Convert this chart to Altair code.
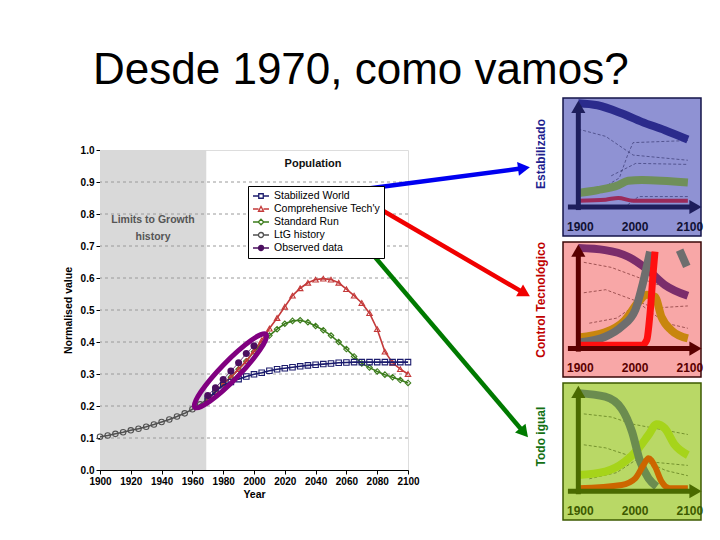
import altair as alt
import pandas as pd

TITLE = "Desde 1970, como vamos?"

# ---------------- main chart data ----------------
hist_years = list(range(1900, 1971, 5))
hist_vals = [0.104, 0.108, 0.113, 0.118, 0.124, 0.129, 0.135, 0.142, 0.150,
             0.158, 0.167, 0.177, 0.190, 0.205, 0.222]

run_years = list(range(1970, 2101, 5))
std_vals = [.222, .245, .268, .290, .315, .340, .370, .395, .420, .440,
            .457, .466, .468, .462, .450, .437, .420, .400, .378, .355,
            .333, .320, .308, .298, .290, .281, .272]
tech_vals = [.222, .245, .268, .290, .315, .340, .372, .405, .442, .475,
             .510, .545, .568, .585, .595, .598, .595, .585, .565, .545,
             .522, .490, .440, .370, .335, .315, .300]
stab_vals = [.222, .245, .265, .275, .284, .292, .299, .304, .310, .315,
             .318, .321, .324, .327, .329, .331, .333, .335, .336, .337,
             .337, .337, .337, .337, .337, .337, .337]
obs_years = [1970, 1975, 1980, 1985, 1990, 1995, 2000]
obs_vals = [0.233, 0.257, 0.283, 0.309, 0.335, 0.364, 0.388]

series_names = ["Stabilized World", "Comprehensive Tech'y", "Standard Run",
                "LtG history", "Observed data"]
series_colors = ["#1c1c6e", "#c43a3a", "#3d7d1d", "#505050", "#4b0f5f"]
series_fills = ["white", "white", "white", "white", "#4b0f5f"]
series_shapes = ["square", "triangle-up", "diamond", "circle", "circle"]

grid_vals = [0.1, 0.2, 0.3, 0.4, 0.5, 0.6, 0.7, 0.8, 0.9]
shade_span = [1900, 1969]
x_ticks = list(range(1900, 2101, 20))
y_ticks = [0.0, 0.1, 0.2, 0.3, 0.4, 0.5, 0.6, 0.7, 0.8, 0.9, 1.0]

# ellipse around the observed data
ellipse_center = [1984.7, 0.31]

# annotation arrows (legend -> panels)
arrow_x0 = [2065.6, 2079.9, 2057.8]
arrow_y0 = [0.874, 0.821, 0.783]
arrow_x1 = [2175.3, 2175.8, 2175.4]
arrow_y1 = [0.9435, 0.552, 0.1166]
arrow_angle = [352.5, 30.2, 49.7]
arrow_color = ["#0000f0", "#f00000", "#007a00"]

# ---------------- panels data ----------------
panel_box = [1872, 2124, -0.28, 1.05]
panel_ranges = [[86, -52], [227, 92], [370, 233]]
panel_bg = ["#8f92d3", "#f8a7a7", "#b9d866"]
panel_border = ["#15154a", "#3a0808", "#3d5a00"]
panel_axis_col = ["#1e1e5c", "#5a0000", "#4a6a00"]
panel_label_col = ["#111133", "#5a0000", "#3d5a00"]
panel_names = ["Estabilizado", "Control Tecnológico", "Todo igual"]
panel_name_col = ["#1f1f8f", "#c00000", "#137013"]
panel_name_y = [0.51, 0.48, 0.53]
panel_tick_years = [1900, 2000, 2100]

# panel 1 (stabilized)
p1_navy_y = [1900, 1935, 1980, 2016, 2058, 2100]
p1_navy_v = [1.0, 0.98, 0.90, 0.82, 0.74, 0.65]
p1_green_y = [1900, 1936, 1973, 1991, 2016, 2100]
p1_green_v = [0.135, 0.163, 0.21, 0.253, 0.26, 0.235]
p1_red_y = [1900, 1950, 1973, 2000, 2100]
p1_red_v = [0.06, 0.07, 0.087, 0.06, 0.06]
# panel 2 (technology)
p2_purple_y = [1900, 1949, 1991, 2027, 2058, 2100]
p2_purple_v = [0.99, 0.97, 0.905, 0.775, 0.627, 0.52]
p2_orange_y = [1900, 1949, 1985, 2010, 2025, 2040, 2052, 2070, 2100]
p2_orange_v = [0.11, 0.16, 0.28, 0.46, 0.53, 0.51, 0.31, 0.18, 0.10]
p2_grey_y = [1900, 1949, 1979, 2004, 2018, 2031]
p2_grey_v = [0.06, 0.117, 0.216, 0.38, 0.646, 0.955]
p2_grey2_y = [2085, 2098]
p2_grey2_v = [0.97, 0.81]
p2_red_y = [1900, 2016, 2025, 2031, 2037, 2040]
p2_red_v = [0.034, 0.034, 0.085, 0.35, 0.77, 0.955]
# panel 3 (business as usual)
p3_light_y = [1900, 1949, 1985, 2010, 2028, 2043, 2058, 2076, 2100]
p3_light_v = [0.157, 0.19, 0.286, 0.416, 0.545, 0.65, 0.61, 0.45, 0.35]
p3_grey_y = [1900, 1949, 1979, 1998, 2013, 2028, 2043]
p3_grey_v = [0.95, 0.917, 0.80, 0.578, 0.286, 0.125, 0.044]
p3_orange_y = [1900, 1979, 2004, 2019, 2028, 2040, 2052, 2067, 2100]
p3_orange_v = [0.028, 0.06, 0.125, 0.254, 0.32, 0.238, 0.092, 0.028, 0.028]

p1_thin = [([1900, 1950, 1975, 1990, 2000, 2100], [0.15, 0.20, 0.28, 0.50, 0.62, 0.64]),
           ([1900, 1950, 2000, 2100], [0.75, 0.68, 0.50, 0.45]),
           ([1960, 1990, 2005, 2100], [0.30, 0.38, 0.42, 0.41]),
           ([1990, 2010, 2100], [0.02, 0.10, 0.10])]
p2_thin = [([1910, 1960, 2000, 2060, 2100], [0.85, 0.80, 0.72, 0.60, 0.55]),
           ([1910, 1950, 1990, 2040, 2100], [0.55, 0.58, 0.50, 0.40, 0.42]),
           ([1920, 1970, 2010, 2060, 2100], [0.25, 0.30, 0.45, 0.25, 0.20])]
p3_thin = [([1910, 1960, 2000, 2050, 2100], [0.75, 0.72, 0.65, 0.60, 0.55]),
           ([1910, 1950, 1990, 2040, 2100], [0.45, 0.42, 0.35, 0.28, 0.25]),
           ([1920, 1970, 2010, 2060, 2100], [0.12, 0.18, 0.32, 0.20, 0.15])]

panel_thick = [
    [(p1_navy_y, p1_navy_v, "#2b2b8c", 8), (p1_green_y, p1_green_v, "#6f8f5a", 8),
     (p1_red_y, p1_red_v, "#9a2a5a", 4)],
    [(p2_orange_y, p2_orange_v, "#c8860e", 8), (p2_purple_y, p2_purple_v, "#7b2d6b", 8),
     (p2_grey_y, p2_grey_v, "#6e6e6e", 8), (p2_grey2_y, p2_grey2_v, "#6e6e6e", 8),
     (p2_red_y, p2_red_v, "#ff1010", 7)],
    [(p3_light_y, p3_light_v, "#a6d41a", 8), (p3_grey_y, p3_grey_v, "#6b8c4f", 8),
     (p3_orange_y, p3_orange_v, "#cc6600", 6)],
]
panel_thin = [p1_thin, p2_thin, p3_thin]
thin_col = ["#22225a", "#5a1010", "#3d5a00"]

FONT = "Liberation Sans"

# ---------------- main chart ----------------
x_axis = alt.Axis(values=x_ticks, format="d", labelFontWeight="bold", labelFontSize=10,
                  tickSize=4, labelPadding=2, grid=False, domainColor="black",
                  tickColor="black", labelColor="black", titleColor="black",
                  titleFontWeight="bold", titleFontSize=10.5, titlePadding=3, labelFlush=False)
y_axis = alt.Axis(values=y_ticks, format=".1f", labelFontWeight="bold", labelFontSize=10,
                  tickSize=4, labelPadding=2, grid=False, domainColor="black",
                  tickColor="black", labelColor="black", titleColor="black",
                  titleFontWeight="bold", titleFontSize=10.5, titlePadding=7)
xs = alt.Scale(domain=[1900, 2100], nice=False, zero=False)
ys = alt.Scale(domain=[0, 1], nice=False, zero=False)


def MX(f):
    return alt.X(f + ":Q", scale=xs, axis=x_axis, title="Year")


def MY(f):
    return alt.Y(f + ":Q", scale=ys, axis=y_axis, title="Normalised value")


rows = []
for y, v in zip(hist_years, hist_vals):
    rows.append({"series": "LtG history", "year": y, "value": v})
for y, a, b, c in zip(run_years, std_vals, tech_vals, stab_vals):
    rows.append({"series": "Standard Run", "year": y, "value": a})
    rows.append({"series": "Comprehensive Tech'y", "year": y, "value": b})
    rows.append({"series": "Stabilized World", "year": y, "value": c})
for y, v in zip(obs_years, obs_vals):
    rows.append({"series": "Observed data", "year": y, "value": v})
sdf = pd.DataFrame(rows)

shade = alt.Chart(pd.DataFrame({"x0": [shade_span[0]], "x1": [shade_span[1]],
                                "y0": [0.0], "y1": [1.0]})).mark_rect(
    color="#d9d9d9").encode(x=MX("x0"), x2="x1", y=MY("y0"), y2="y1")

grid = alt.Chart(pd.DataFrame({"g": grid_vals})).mark_rule(
    strokeDash=[3, 3], color="#9a9a9a", strokeWidth=1).encode(y=MY("g"))

draw_order = ["LtG history", "Standard Run", "Comprehensive Tech'y", "Stabilized World", "Observed data"]
line_w = {"LtG history": 1.6, "Standard Run": 1.6, "Comprehensive Tech'y": 1.6,
          "Stabilized World": 1.6, "Observed data": 0.8}
series_layers = []
for name in draw_order:
    i = series_names.index(name)
    d = sdf[sdf.series == name]
    base = alt.Chart(d)
    series_layers.append(base.mark_line(color=series_colors[i], strokeWidth=line_w[name]).encode(
        x=MX("year"), y=MY("value")))
    if name == "Observed data":
        pt = base.mark_point(shape="circle", filled=True, color=series_colors[i], size=50, opacity=1)
    else:
        pt = base.mark_point(shape=series_shapes[i], filled=False, color=series_colors[i],
                             size=30, strokeWidth=1.1, opacity=1)
    series_layers.append(pt.encode(x=MX("year"), y=MY("value")))

ell_k = 0.18
ell_path = ("M-1,0C-1,-{a},-0.5523,-{b},0,-{b}C0.5523,-{b},1,-{a},1,0"
            "C1,{a},0.5523,{b},0,{b}C-0.5523,{b},-1,{a},-1,0Z").format(a=round(0.5523 * ell_k, 4), b=ell_k)
ellipse = alt.Chart(pd.DataFrame({"year": [ellipse_center[0]], "value": [ellipse_center[1]]})).mark_point(
    shape=ell_path, size=10404, angle=314.2, filled=False, stroke="#800080", strokeWidth=5,
    opacity=1).encode(x=MX("year"), y=MY("value"))

txt_df = pd.DataFrame({"year": [2038.3], "value": [0.955], "t": ["Population"]})
pop_txt = alt.Chart(txt_df).mark_text(fontSize=11, fontWeight="bold", color="#111",
                                      font=FONT).encode(x=MX("year"), y=MY("value"), text="t:N")
ltg_df = pd.DataFrame({"year": [1934.4, 1934.4], "value": [0.78, 0.728],
                       "t": ["Limits to Growth", "history"]})
ltg_txt = alt.Chart(ltg_df).mark_text(fontSize=10.5, fontWeight="bold", color="#555",
                                      font=FONT).encode(x=MX("year"), y=MY("value"), text="t:N")

title_txt = alt.Chart(pd.DataFrame({"t": [TITLE]})).mark_text(
    fontSize=44, align="left", baseline="alphabetic", font=FONT, color="black").encode(
    text="t:N", x=alt.value(-7), y=alt.value(-66))

# legend (native) from a data-less layer
c = 0.5523 * 0.5
circ = ("M0.1,0C0.1,-{c},{l},-0.5,0.6,-0.5C{r},-0.5,1.1,-{c},1.1,0"
        "C1.1,{c},{r},0.5,0.6,0.5C{l},0.5,0.1,{c},0.1,0Z").format(c=round(c, 3), l=round(0.6 - c, 3), r=round(0.6 + c, 3))
legend_paths = [
    "M-1,0H0.15M1.05,0H2.2M0.15,-0.45H1.05V0.45H0.15Z",
    "M-1,0H0.1M1.1,0H2.2M0.1,0.45L0.6,-0.5L1.1,0.45Z",
    "M-1,0H0.05M1.15,0H2.2M0.6,-0.55L1.15,0L0.6,0.55L0.05,0Z",
    "M-1,0H0.1M1.1,0H2.2" + circ,
    "M-1,0H0.1M1.1,0H2.2" + circ,
]
LEG = alt.Legend(orient="none", legendX=148, legendY=36, title=None, strokeColor="black",
                 fillColor="white", padding=4, labelFontSize=10.5, labelFont=FONT,
                 labelColor="black", symbolSize=100, symbolStrokeWidth=1.3, rowPadding=1,
                 labelOffset=10)
legend_layer = alt.Chart(pd.DataFrame({"series": series_names})).transform_filter("false").mark_point(
    opacity=1).encode(
    stroke=alt.Stroke("series:N", scale=alt.Scale(domain=series_names, range=series_colors), legend=LEG),
    fill=alt.Fill("series:N", scale=alt.Scale(domain=series_names, range=series_fills), legend=LEG),
    shape=alt.Shape("series:N", scale=alt.Scale(domain=series_names, range=legend_paths), legend=LEG),
)

adf = pd.DataFrame({"x0": arrow_x0, "y0": arrow_y0, "x1": arrow_x1, "y1": arrow_y1,
                    "ang": arrow_angle, "col": arrow_color})
arrow_lines = alt.Chart(adf).mark_rule(strokeWidth=4.5).encode(
    x=MX("x0"), x2="x1", y=MY("y0"), y2="y1", color=alt.Color("col:N", scale=None))
arrow_heads = alt.Chart(adf).mark_point(shape="triangle-right", size=190, filled=True,
                                        opacity=1).encode(
    x=MX("x1"), y=MY("y1"), color=alt.Color("col:N", scale=None), angle=alt.Angle("ang:Q", scale=None))

main = alt.layer(shade, grid, *series_layers, ellipse, pop_txt, ltg_txt, legend_layer,
                 arrow_lines, arrow_heads, title_txt)


# ---------------- panels ----------------
def panel(i):
    px = alt.Scale(domain=panel_box[:2], range=[463, 601], nice=False, zero=False)
    py = alt.Scale(domain=panel_box[2:], range=panel_ranges[i], nice=False, zero=False)

    def PX(f):
        return alt.X(f + ":Q", scale=px, axis=None)

    def PY(f):
        return alt.Y(f + ":Q", scale=py, axis=None)

    box = alt.Chart(pd.DataFrame({"x0": [panel_box[0]], "x1": [panel_box[1]],
                                  "y0": [panel_box[2]], "y1": [panel_box[3]]})).mark_rect(
        fill=panel_bg[i], stroke=panel_border[i], strokeWidth=1.5).encode(
        x=PX("x0"), x2="x1", y=PY("y0"), y2="y1")

    trows = []
    for k, (yy, vv) in enumerate(panel_thin[i]):
        for a, b in zip(yy, vv):
            trows.append({"id": k, "year": a, "value": b})
    thin = alt.Chart(pd.DataFrame(trows)).mark_line(
        color=thin_col[i], strokeWidth=0.8, strokeDash=[3, 2], opacity=0.7).encode(
        x=PX("year"), y=PY("value"), detail="id:N")

    thick = []
    for k, (yy, vv, col, w) in enumerate(panel_thick[i]):
        d = pd.DataFrame({"year": yy, "value": vv})
        thick.append(alt.Chart(d).mark_line(color=col, strokeWidth=w, interpolate="monotone").encode(
            x=PX("year"), y=PY("value")))

    hx = alt.Chart(pd.DataFrame({"x0": [1881], "x1": [2113], "y0": [0.0]})).mark_rule(
        color=panel_axis_col[i], strokeWidth=5).encode(x=PX("x0"), x2="x1", y=PY("y0"))
    vx = alt.Chart(pd.DataFrame({"x0": [1900], "y0": [-0.03], "y1": [0.96]})).mark_rule(
        color=panel_axis_col[i], strokeWidth=5).encode(x=PX("x0"), y=PY("y0"), y2="y1")
    head_r = alt.Chart(pd.DataFrame({"x": [2114], "y": [0.0]})).mark_point(
        shape="triangle-right", filled=True, size=200, color=panel_axis_col[i], opacity=1).encode(
        x=PX("x"), y=PY("y"))
    head_u = alt.Chart(pd.DataFrame({"x": [1900], "y": [0.965]})).mark_point(
        shape="triangle-up", filled=True, size=200, color=panel_axis_col[i], opacity=1).encode(
        x=PX("x"), y=PY("y"))

    labs = alt.Chart(pd.DataFrame({"x": panel_tick_years, "y": [-0.19] * 3,
                                   "t": [str(v) for v in panel_tick_years]})).mark_text(
        fontSize=12, fontWeight="bold", color=panel_label_col[i], font=FONT, dx=2).encode(
        x=PX("x"), y=PY("y"), text="t:N")

    name = alt.Chart(pd.DataFrame({"x": [1832], "y": [panel_name_y[i]], "t": [panel_names[i]]})).mark_text(
        fontSize=12, fontWeight="bold", angle=270, color=panel_name_col[i], font=FONT,
        baseline="middle", align="center").encode(x=PX("x"), y=PY("y"), text="t:N")

    return alt.layer(box, thin, *thick, hx, vx, head_r, head_u, labs, name)


chart = alt.layer(main, panel(0), panel(1), panel(2)).resolve_scale(
    x="independent", y="independent"
).properties(
    width=308, height=320,
    autosize=alt.AutoSizeParams(type="none"),
    padding={"left": 92, "top": 142, "right": 301, "bottom": 55},
).configure_view(stroke="#333", strokeWidth=1.2).configure(font=FONT)

chart.save("out.html", embed_options={"renderer": "svg", "actions": False})
